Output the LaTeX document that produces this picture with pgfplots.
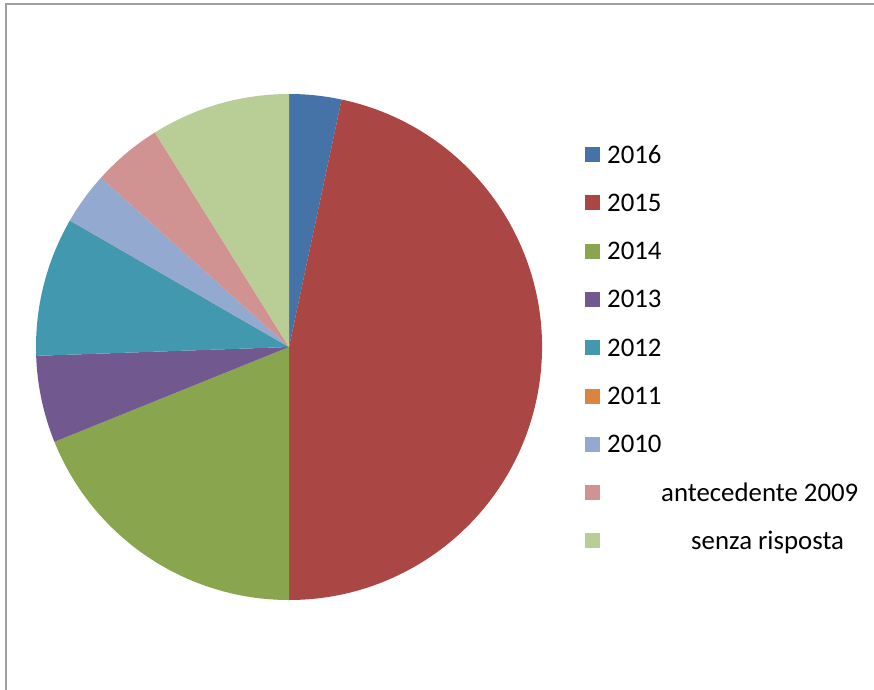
\documentclass[border=0pt]{standalone}
\usepackage{fontspec}
\setmainfont{Carlito}
\usepackage{pgfplots}
\usepackage{pgfplotstable}
\pgfplotsset{compat=1.18}

\definecolor{c2016}{HTML}{4572A7}
\definecolor{c2015}{HTML}{AA4643}
\definecolor{c2014}{HTML}{89A54E}
\definecolor{c2013}{HTML}{71588F}
\definecolor{c2012}{HTML}{4198AF}
\definecolor{c2011}{HTML}{DB843D}
\definecolor{c2010}{HTML}{93A9CF}
\definecolor{cante}{HTML}{D19392}
\definecolor{csenza}{HTML}{B9CD96}

% answers per year (slices clockwise from 12 o'clock)
\pgfplotstableread{
count col
3  c2016
42 c2015
17 c2014
5  c2013
8  c2012
0  c2011
3  c2010
4  cante
8  csenza
}\piedata

\begin{document}
\begin{tikzpicture}
\useasboundingbox (0,0) rectangle (874bp,690bp);
\begin{axis}[
  at={(0,0)},anchor=south west,
  hide axis,scale only axis,
  width=874bp,height=690bp,
  xmin=0,xmax=874,ymin=0,ymax=690,
  y dir=reverse,clip=false
]
% frame
\draw[gray!75,line width=2bp] (axis cs:5.5,700) -- (axis cs:5.5,3.5) -- (axis cs:890,3.5);

% total
\pgfplotstablegetrowsof{\piedata}
\pgfmathtruncatemacro\nrows{\pgfplotsretval-1}
\def\total{0}
\pgfplotsforeachungrouped \i in {0,...,\nrows}{
  \pgfplotstablegetelem{\i}{count}\of\piedata
  \pgfmathsetmacro\total{\total+\pgfplotsretval}
}
% slices
\def\angstart{90}
\pgfplotsforeachungrouped \i in {0,...,\nrows}{
  \pgfplotstablegetelem{\i}{count}\of\piedata \let\cnt\pgfplotsretval
  \pgfplotstablegetelem{\i}{col}\of\piedata \let\col\pgfplotsretval
  \pgfmathsetmacro\angend{\angstart-360*\cnt/\total}
  \edef\temp{\noexpand\fill[\col] (axis cs:289,347) -- ++(\angstart:253bp)
    arc[start angle=\angstart,end angle=\angend,radius=253bp] -- cycle;}
  \temp
  \let\angstart\angend
}

% legend
\foreach \k/\c/\t/\x in {0/c2016/2016/607,1/c2015/2015/607,2/c2014/2014/607,
  3/c2013/2013/607,4/c2012/2012/607,5/c2011/2011/607,6/c2010/2010/607,
  7/cante/antecedente 2009/661,8/csenza/senza risposta/691}{
  \edef\temp{\noexpand\fill[\c] (axis cs:585,{163+48.3*\k-16}) rectangle (axis cs:600,{163+48.3*\k-1});
    \noexpand\node[anchor=base west,inner sep=0pt,font=\noexpand\fontsize{26.8bp}{31bp}\noexpand\selectfont]
      at (axis cs:\x,{163+48.3*\k}) {\t};}
  \temp
}
\end{axis}
\end{tikzpicture}
\end{document}
